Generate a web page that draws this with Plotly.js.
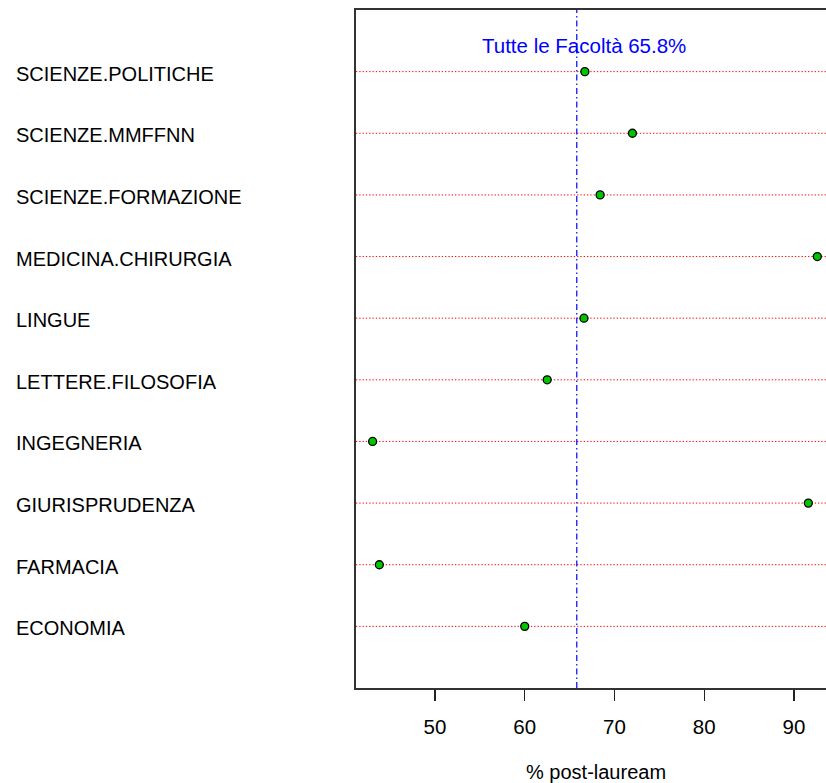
<!DOCTYPE html>
<html>
<head>
<meta charset="utf-8">
<script src="https://cdn.plot.ly/plotly-3.0.1.min.js"></script>
<style>
html,body{margin:0;padding:0;background:#fff;overflow:hidden;}
#chart{width:826px;height:783px;}
</style>
</head>
<body>
<div id="chart"></div>
<script>
// Data (bottom to top, as in the dot chart)
var categories = ["ECONOMIA","FARMACIA","GIURISPRUDENZA","INGEGNERIA","LETTERE.FILOSOFIA",
                  "LINGUE","MEDICINA.CHIRURGIA","SCIENZE.FORMAZIONE","SCIENZE.MMFFNN","SCIENZE.POLITICHE"];
var values = [60.0, 43.8, 91.6, 43.05, 62.5, 66.6, 92.6, 68.4, 72.0, 66.7];
var overallMean = 65.8;
var xTickVals = [50, 60, 70, 80, 90];
var xTickText = ["50", "60", "70", "80", "90"];
var xTitle = "% post-lauream";
var meanLabel = "Tutte le Facoltà " + overallMean + "%";

var FONT = "Arial, 'Liberation Sans', sans-serif";
var positions = categories.map(function(_, i){ return i + 1; });

var trace = {
  type: "scatter",
  mode: "markers",
  x: values,
  y: positions,
  marker: {size: 8, color: "#00c400", line: {color: "#000", width: 1.3}},
  hoverinfo: "x",
  showlegend: false,
  cliponaxis: false
};

var shapes = positions.map(function(p){
  return {type: "line", xref: "paper", x0: 0, x1: 1, yref: "y", y0: p, y1: p,
          line: {color: "#ff0000", width: 1, dash: "1.3px,2px"}, layer: "below"};
});
shapes.push({type: "line", xref: "x", x0: overallMean, x1: overallMean, yref: "paper", y0: 0, y1: 1,
             line: {color: "#0000ff", width: 1.2, dash: "6px,3px,1.5px,3px"}});

var L = 356, W = 826, T = 10, H = 783, B = 95;
var plotW = W - L, plotH = H - T - B;

var annotations = categories.map(function(c, i){
  return {xref: "paper", x: (14 - L) / plotW, xanchor: "left", yref: "y", y: positions[i],
          yanchor: "middle", yshift: -2, text: c, showarrow: false,
          font: {family: FONT, size: 20, color: "#000"}};
});
annotations.push({xref: "x", x: 66.6, yref: "y", y: 10.43, text: meanLabel, showarrow: false,
                  xanchor: "center", yanchor: "middle", font: {family: FONT, size: 20.5, color: "#0000ff"}});
annotations.push({xref: "x", x: 67.94, yref: "paper", y: (T + plotH - 771.7) / plotH, xanchor: "center",
                  yanchor: "middle", text: xTitle, showarrow: false,
                  font: {family: FONT, size: 20, color: "#000"}});

var layout = {
  width: W, height: H,
  margin: {l: L, r: 0, t: T, b: B, pad: 0},
  paper_bgcolor: "#fff", plot_bgcolor: "#fff",
  font: {family: FONT, size: 20, color: "#000"},
  xaxis: {
    range: [41.2, 41.2 + plotW / 8.975],
    tickvals: xTickVals, ticktext: xTickText,
    ticks: "outside", ticklen: 11, tickwidth: 1.3, tickcolor: "#222",
    ticklabelstandoff: 9,
    showline: true, linecolor: "#333", linewidth: 1.6, mirror: true,
    showgrid: false, zeroline: false,
    tickfont: {family: FONT, size: 20.5, color: "#000"}
  },
  yaxis: {
    range: [0, 11],
    showticklabels: false, ticks: "",
    showline: true, linecolor: "#333", linewidth: 1.6,
    showgrid: false, zeroline: false
  },
  shapes: shapes,
  annotations: annotations
};

Plotly.newPlot("chart", [trace], layout, {displayModeBar: false, staticPlot: true});
</script>
</body>
</html>
